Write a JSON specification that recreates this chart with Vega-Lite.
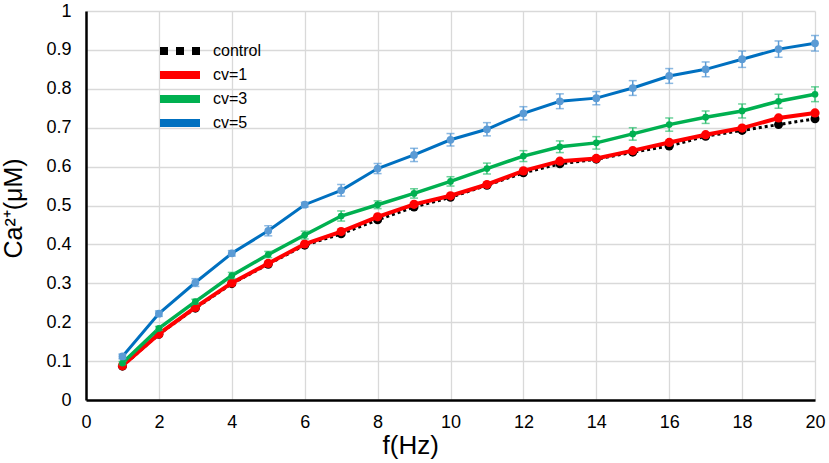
{
  "$schema": "https://vega.github.io/schema/vega-lite/v6.json",
  "width": 729,
  "height": 389,
  "autosize": {"type": "none"},
  "padding": {"left": 86, "top": 11, "right": 14, "bottom": 63},
  "background": "white",
  "config": {
    "view": {"stroke": null},
    "font": "Liberation Sans",
    "axis": {
      "domainColor": "black",
      "domainWidth": 2.5,
      "gridColor": "#d9d9d9",
      "gridWidth": 1.3,
      "ticks": false,
      "labelFlush": false,
      "labelFont": "Liberation Sans",
      "labelFontSize": 18,
      "labelColor": "black",
      "titleFont": "Liberation Sans",
      "titleFontSize": 25,
      "titleFontWeight": "normal",
      "titleColor": "black"
    },
    "legend": {
      "labelFont": "Liberation Sans",
      "labelFontSize": 16,
      "labelColor": "black"
    }
  },
  "data": {
    "values": [
      {"f": 1, "series": "control", "ca": 0.087, "err": 0},
      {"f": 2, "series": "control", "ca": 0.169, "err": 0},
      {"f": 3, "series": "control", "ca": 0.236, "err": 0},
      {"f": 4, "series": "control", "ca": 0.299, "err": 0},
      {"f": 5, "series": "control", "ca": 0.349, "err": 0},
      {"f": 6, "series": "control", "ca": 0.398, "err": 0},
      {"f": 7, "series": "control", "ca": 0.427, "err": 0},
      {"f": 8, "series": "control", "ca": 0.463, "err": 0},
      {"f": 9, "series": "control", "ca": 0.496, "err": 0},
      {"f": 10, "series": "control", "ca": 0.521, "err": 0},
      {"f": 11, "series": "control", "ca": 0.552, "err": 0},
      {"f": 12, "series": "control", "ca": 0.584, "err": 0},
      {"f": 13, "series": "control", "ca": 0.607, "err": 0},
      {"f": 14, "series": "control", "ca": 0.619, "err": 0},
      {"f": 15, "series": "control", "ca": 0.637, "err": 0},
      {"f": 16, "series": "control", "ca": 0.653, "err": 0},
      {"f": 17, "series": "control", "ca": 0.678, "err": 0},
      {"f": 18, "series": "control", "ca": 0.693, "err": 0},
      {"f": 19, "series": "control", "ca": 0.708, "err": 0},
      {"f": 20, "series": "control", "ca": 0.723, "err": 0},
      {"f": 1, "series": "cv=1", "ca": 0.088, "err": 0},
      {"f": 2, "series": "cv=1", "ca": 0.170, "err": 0},
      {"f": 3, "series": "cv=1", "ca": 0.238, "err": 0},
      {"f": 4, "series": "cv=1", "ca": 0.301, "err": 0},
      {"f": 5, "series": "cv=1", "ca": 0.351, "err": 0},
      {"f": 6, "series": "cv=1", "ca": 0.401, "err": 0},
      {"f": 7, "series": "cv=1", "ca": 0.433, "err": 0},
      {"f": 8, "series": "cv=1", "ca": 0.471, "err": 0},
      {"f": 9, "series": "cv=1", "ca": 0.503, "err": 0},
      {"f": 10, "series": "cv=1", "ca": 0.525, "err": 0},
      {"f": 11, "series": "cv=1", "ca": 0.554, "err": 0},
      {"f": 12, "series": "cv=1", "ca": 0.589, "err": 0},
      {"f": 13, "series": "cv=1", "ca": 0.614, "err": 0},
      {"f": 14, "series": "cv=1", "ca": 0.621, "err": 0},
      {"f": 15, "series": "cv=1", "ca": 0.641, "err": 0},
      {"f": 16, "series": "cv=1", "ca": 0.662, "err": 0},
      {"f": 17, "series": "cv=1", "ca": 0.682, "err": 0},
      {"f": 18, "series": "cv=1", "ca": 0.699, "err": 0},
      {"f": 19, "series": "cv=1", "ca": 0.725, "err": 0},
      {"f": 20, "series": "cv=1", "ca": 0.738, "err": 0},
      {"f": 1, "series": "cv=3", "ca": 0.095, "err": 0.004},
      {"f": 2, "series": "cv=3", "ca": 0.184, "err": 0.005},
      {"f": 3, "series": "cv=3", "ca": 0.253, "err": 0.006},
      {"f": 4, "series": "cv=3", "ca": 0.320, "err": 0.008},
      {"f": 5, "series": "cv=3", "ca": 0.374, "err": 0.008},
      {"f": 6, "series": "cv=3", "ca": 0.424, "err": 0.010},
      {"f": 7, "series": "cv=3", "ca": 0.473, "err": 0.013},
      {"f": 8, "series": "cv=3", "ca": 0.502, "err": 0.010},
      {"f": 9, "series": "cv=3", "ca": 0.531, "err": 0.012},
      {"f": 10, "series": "cv=3", "ca": 0.562, "err": 0.012},
      {"f": 11, "series": "cv=3", "ca": 0.595, "err": 0.014},
      {"f": 12, "series": "cv=3", "ca": 0.627, "err": 0.014},
      {"f": 13, "series": "cv=3", "ca": 0.651, "err": 0.015},
      {"f": 14, "series": "cv=3", "ca": 0.661, "err": 0.016},
      {"f": 15, "series": "cv=3", "ca": 0.684, "err": 0.016},
      {"f": 16, "series": "cv=3", "ca": 0.708, "err": 0.017},
      {"f": 17, "series": "cv=3", "ca": 0.727, "err": 0.016},
      {"f": 18, "series": "cv=3", "ca": 0.743, "err": 0.018},
      {"f": 19, "series": "cv=3", "ca": 0.768, "err": 0.018},
      {"f": 20, "series": "cv=3", "ca": 0.786, "err": 0.019},
      {"f": 1, "series": "cv=5", "ca": 0.112, "err": 0.006},
      {"f": 2, "series": "cv=5", "ca": 0.222, "err": 0.007},
      {"f": 3, "series": "cv=5", "ca": 0.302, "err": 0.010},
      {"f": 4, "series": "cv=5", "ca": 0.377, "err": 0.007},
      {"f": 5, "series": "cv=5", "ca": 0.435, "err": 0.013},
      {"f": 6, "series": "cv=5", "ca": 0.502, "err": 0.006},
      {"f": 7, "series": "cv=5", "ca": 0.539, "err": 0.015},
      {"f": 8, "series": "cv=5", "ca": 0.595, "err": 0.013},
      {"f": 9, "series": "cv=5", "ca": 0.630, "err": 0.017},
      {"f": 10, "series": "cv=5", "ca": 0.669, "err": 0.016},
      {"f": 11, "series": "cv=5", "ca": 0.696, "err": 0.017},
      {"f": 12, "series": "cv=5", "ca": 0.737, "err": 0.017},
      {"f": 13, "series": "cv=5", "ca": 0.768, "err": 0.019},
      {"f": 14, "series": "cv=5", "ca": 0.776, "err": 0.017},
      {"f": 15, "series": "cv=5", "ca": 0.802, "err": 0.019},
      {"f": 16, "series": "cv=5", "ca": 0.833, "err": 0.019},
      {"f": 17, "series": "cv=5", "ca": 0.850, "err": 0.019},
      {"f": 18, "series": "cv=5", "ca": 0.876, "err": 0.021},
      {"f": 19, "series": "cv=5", "ca": 0.902, "err": 0.021},
      {"f": 20, "series": "cv=5", "ca": 0.917, "err": 0.020}
    ]
  },
  "encoding": {
    "x": {
      "field": "f",
      "type": "quantitative",
      "scale": {"domain": [0, 20], "nice": false, "zero": false},
      "axis": {"values": [0, 2, 4, 6, 8, 10, 12, 14, 16, 18, 20], "title": "f(Hz)", "titleFontSize": 26, "labelPadding": 13, "titleX": 296, "titleY": 53, "titleAnchor": "start", "titleAlign": "left", "titleBaseline": "alphabetic"}
    },
    "y": {
      "field": "ca",
      "type": "quantitative",
      "scale": {"domain": [0, 1], "nice": false},
      "axis": {"values": [0, 0.1, 0.2, 0.3, 0.4, 0.5, 0.6, 0.7, 0.8, 0.9, 1], "labelExpr": "format(datum.value, '~g')", "title": "Ca²⁺(μM)", "labelPadding": 15, "titleX": -65, "titleY": 197, "titleAngle": -90, "titleAlign": "center", "titleBaseline": "alphabetic"}
    }
  },
  "layer": [
    {
      "transform": [{"filter": "datum.series === 'control'"}],
      "layer": [
        {
          "mark": {"type": "line", "strokeDash": [3, 3], "strokeWidth": 3},
          "encoding": {
            "color": {
              "field": "series",
              "type": "nominal",
              "scale": {"domain": ["control", "cv=1", "cv=3", "cv=5"], "range": ["#000000", "#ff0000", "#00b050", "#0070c0"]},
              "legend": {
                "title": null,
                "orient": "none",
                "legendX": 74,
                "legendY": 30,
                "symbolType": "M-4,0H4",
                "symbolSize": 100,
                "symbolStrokeWidth": 8,
                "symbolOffset": 11,
                "labelOffset": 24,
                "rowPadding": 4,
                "clipHeight": 20,
                "encode": {
                  "symbols": {
                    "update": {
                      "size": {"value": 100},
                      "strokeDash": [
                        {"test": "datum.value === 'control'", "value": [8, 8]},
                        {"value": [1, 0]}
                      ],
                      "strokeWidth": {"value": 8}
                    }
                  }
                }
              }
            }
          }
        },
        {
          "mark": {"type": "point", "filled": true, "opacity": 1, "shape": "circle", "color": "#000000", "size": 80}
        }
      ]
    },
    {
      "transform": [{"filter": "datum.series === 'cv=1'"}],
      "layer": [
        {
          "mark": {"type": "line", "strokeWidth": 4},
          "encoding": {"color": {"field": "series", "type": "nominal"}}
        },
        {
          "mark": {"type": "point", "filled": true, "opacity": 1, "shape": "circle", "color": "#ff0000", "size": 85}
        }
      ]
    },
    {
      "transform": [{"filter": "datum.series === 'cv=3'"}],
      "layer": [
        {
          "mark": {"type": "line", "strokeWidth": 3.5},
          "encoding": {"color": {"field": "series", "type": "nominal"}}
        },
        {
          "mark": {"type": "errorbar", "ticks": {"size": 8}, "thickness": 1.5, "color": "#2fbf71"},
          "encoding": {"y": {"field": "ca", "type": "quantitative"}, "yError": {"field": "err"}}
        },
        {
          "mark": {"type": "point", "filled": true, "opacity": 1, "shape": "circle", "color": "#00b050", "size": 45}
        }
      ]
    },
    {
      "transform": [{"filter": "datum.series === 'cv=5'"}],
      "layer": [
        {
          "mark": {"type": "line", "strokeWidth": 3},
          "encoding": {"color": {"field": "series", "type": "nominal"}}
        },
        {
          "mark": {"type": "errorbar", "ticks": {"size": 8}, "thickness": 1.5, "color": "#5b9bd5"},
          "encoding": {"y": {"field": "ca", "type": "quantitative"}, "yError": {"field": "err"}}
        },
        {
          "mark": {"type": "point", "filled": true, "opacity": 1, "shape": "circle", "color": "#5b9bd5", "size": 60}
        }
      ]
    }
  ]
}
